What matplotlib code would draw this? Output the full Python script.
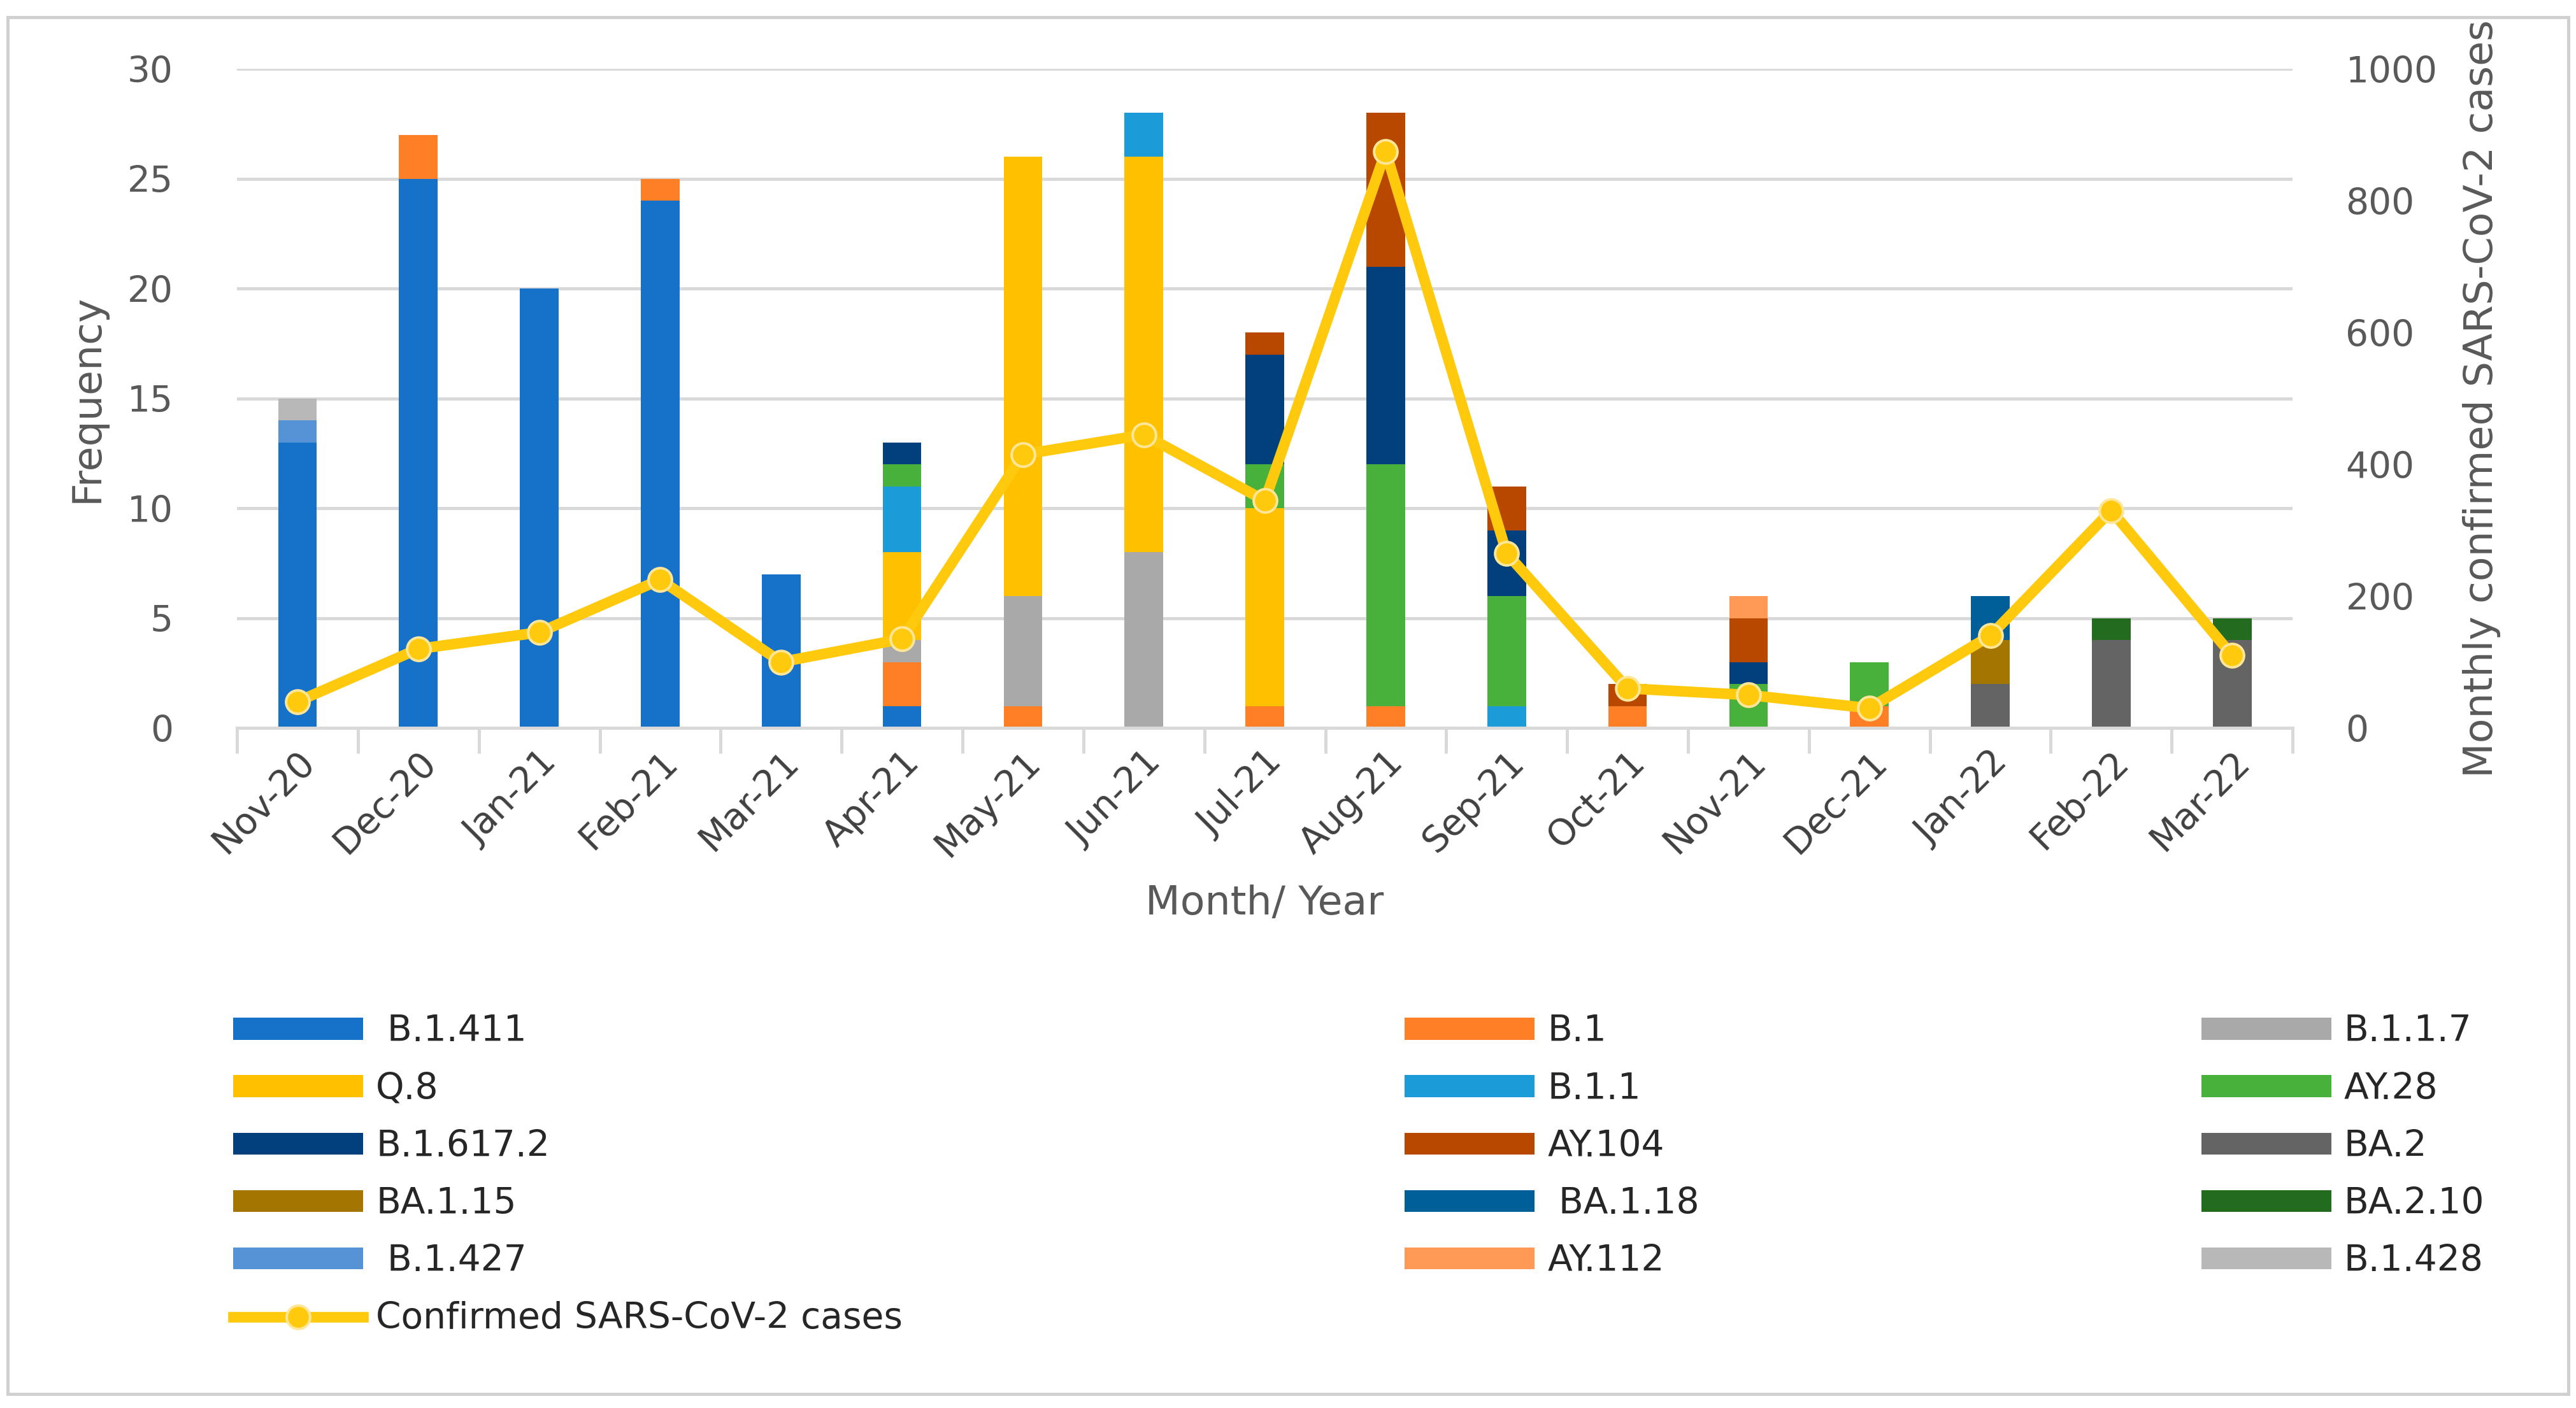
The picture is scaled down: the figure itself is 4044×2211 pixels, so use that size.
import matplotlib
matplotlib.use("Agg")
import matplotlib.pyplot as plt
from matplotlib.patches import Rectangle
import numpy as np

months = ["Nov-20","Dec-20","Jan-21","Feb-21","Mar-21","Apr-21","May-21","Jun-21","Jul-21",
          "Aug-21","Sep-21","Oct-21","Nov-21","Dec-21","Jan-22","Feb-22","Mar-22"]
variants = ["B.1.411","B.1","B.1.1.7","Q.8","B.1.1","AY.28","B.1.617.2","AY.104","BA.2",
            "BA.1.15","BA.1.18","BA.2.10","B.1.427","AY.112","B.1.428"]
legend_labels = [" B.1.411","B.1","B.1.1.7","Q.8","B.1.1","AY.28","B.1.617.2","AY.104","BA.2",
                 "BA.1.15"," BA.1.18","BA.2.10"," B.1.427","AY.112","B.1.428"]
colors = ["#1672C8","#FF7F27","#A9A9A9","#FFC000","#1B9CD9","#48B13C","#02407D","#B84800",
          "#646464","#A47500","#005F99","#236B1E","#5592D6","#FF9955","#B8B8B8"]
counts = {
    "B.1.411":   [13,25,20,24,7,1,0,0,0,0,0,0,0,0,0,0,0],
    "B.1":       [0,2,0,1,0,2,1,0,1,1,0,1,0,1,0,0,0],
    "B.1.1.7":   [0,0,0,0,0,1,5,8,0,0,0,0,0,0,0,0,0],
    "Q.8":       [0,0,0,0,0,4,20,18,9,0,0,0,0,0,0,0,0],
    "B.1.1":     [0,0,0,0,0,3,0,2,0,0,1,0,0,0,0,0,0],
    "AY.28":     [0,0,0,0,0,1,0,0,2,11,5,0,2,2,0,0,0],
    "B.1.617.2": [0,0,0,0,0,1,0,0,5,9,3,0,1,0,0,0,0],
    "AY.104":    [0,0,0,0,0,0,0,0,1,7,2,1,2,0,0,0,0],
    "BA.2":      [0,0,0,0,0,0,0,0,0,0,0,0,0,0,2,4,4],
    "BA.1.15":   [0,0,0,0,0,0,0,0,0,0,0,0,0,0,2,0,0],
    "BA.1.18":   [0,0,0,0,0,0,0,0,0,0,0,0,0,0,2,0,0],
    "BA.2.10":   [0,0,0,0,0,0,0,0,0,0,0,0,0,0,0,1,1],
    "B.1.427":   [1,0,0,0,0,0,0,0,0,0,0,0,0,0,0,0,0],
    "AY.112":    [0,0,0,0,0,0,0,0,0,0,0,0,1,0,0,0,0],
    "B.1.428":   [1,0,0,0,0,0,0,0,0,0,0,0,0,0,0,0,0],
}
cases = [40,120,145,225,100,135,415,445,345,875,265,60,50,30,140,330,110]

plt.rcParams["font.family"] = "DejaVu Sans"
fig = plt.figure(figsize=(4044/240, 2211/240), dpi=240)
ax = fig.add_axes([0.092, 0.483, 0.798, 0.468])
x = np.arange(len(months))
bottom = np.zeros(len(months))
handles = []
for v, lab, c in zip(variants, legend_labels, colors):
    vals = np.array(counts[v], dtype=float)
    b = ax.bar(x, vals, 0.32, bottom=bottom, color=c, label=lab, zorder=2)
    bottom += vals
    handles.append(b)
ax.set_ylim(0, 30)
ax.set_xlim(-0.5, len(months)-0.5)
ax.set_yticks(range(0, 31, 5))
ax.yaxis.grid(True, color="#D9D9D9", linewidth=1.5, zorder=0)
ax.set_axisbelow(True)
for s in ["top","right","left"]:
    ax.spines[s].set_visible(False)
ax.spines["bottom"].set_color("#D9D9D9")
ax.spines["bottom"].set_linewidth(1.5)
ax.set_xticks(x)
ax.set_xticklabels(months, rotation=45, ha="right", rotation_mode="anchor", fontsize=17, color="#404040")
ax.set_xticks(np.arange(-0.5, len(months), 1), minor=True)
ax.tick_params(axis="x", which="major", length=0, pad=8)
ax.tick_params(axis="x", which="minor", length=12, color="#D9D9D9", width=1.5)
ax.tick_params(axis="y", length=0, labelsize=17, labelcolor="#595959", pad=30)
ax.set_ylabel("Frequency", fontsize=19, color="#595959", labelpad=10)
ax.set_xlabel("Month/ Year", fontsize=19, color="#595959", labelpad=10)

ax2 = ax.twinx()
ln, = ax2.plot(x, cases, color="#FFC90E", linewidth=5, marker="o", markersize=11,
               markerfacecolor="#FFC90E", markeredgecolor="#FFE699", markeredgewidth=1.2,
               label="Confirmed SARS-CoV-2 cases", zorder=5)
ax2.set_ylim(0, 1000)
ax2.set_yticks(range(0, 1001, 200))
for s in ax2.spines.values():
    s.set_visible(False)
ax2.tick_params(axis="y", length=0, labelsize=17, labelcolor="#595959", pad=25)
ax2.set_ylabel("Monthly confirmed SARS-CoV-2 cases", fontsize=19, color="#595959", labelpad=12)

rows = [handles[i:i+3] for i in range(0, 15, 3)]
col_order = [[r[c] for r in rows] for c in range(3)]
h = col_order[0] + [ln] + col_order[1] + col_order[2]
labels = [hh.get_label() for hh in h]
fig.legend(h, labels, loc="upper left", bbox_to_anchor=(0.085, 0.03, 0.885, 0.26), ncol=3,
           mode="expand", frameon=False, fontsize=17, handlelength=3.6, handleheight=0.55,
           labelspacing=0.62, handletextpad=0.35, labelcolor="#262626", borderaxespad=0)

fig.patches.append(Rectangle((0.003, 0.01), 0.994, 0.978, transform=fig.transFigure,
                             fill=False, edgecolor="#D0D0D0", linewidth=1.5))
fig.savefig("out.png", dpi=240, facecolor="white")
